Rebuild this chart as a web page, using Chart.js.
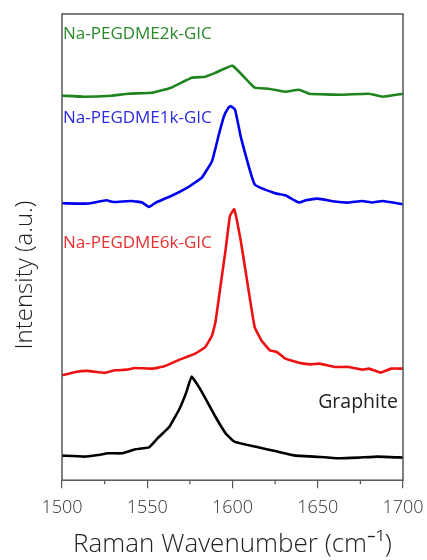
<!DOCTYPE html>
<html>
<head>
<meta charset="utf-8">
<script src="https://cdn.jsdelivr.net/npm/chart.js@4.4.0/dist/chart.umd.min.js"></script>
<style>
  body { margin: 0; background: #fff; }
  #wrap { width: 427px; height: 560px; }
</style>
</head>
<body>
<div id="wrap"><canvas id="raman"></canvas></div>
<script>
'use strict';

// Raman shift (cm-1) and offset intensity (a.u.)
const graphiteX = [1500, 1513, 1521, 1527, 1535, 1543, 1551, 1556, 1563, 1569, 1573, 1576, 1582, 1590, 1596, 1601, 1615, 1625, 1637, 1648, 1662, 1674, 1685, 1700];
const graphiteY = [24.7, 23.7, 25.3, 27, 27, 31, 33, 42, 53.7, 72, 88.7, 104, 88.7, 63.7, 47, 38.7, 33, 29.3, 24.7, 23.7, 22, 22.7, 23.7, 22.7];

const peg6kX = [1500, 1508, 1515, 1525, 1531, 1538, 1543, 1553, 1560, 1568, 1578, 1584, 1588, 1590, 1593, 1596, 1598.5, 1601, 1605, 1609, 1613, 1617, 1622, 1626, 1631, 1639, 1646, 1651, 1660, 1668, 1676, 1680, 1687, 1693, 1700];
const peg6kY = [105.3, 108.7, 109.7, 107.7, 110.3, 111, 112.7, 112, 114.3, 120.3, 127, 133.7, 145.3, 158.7, 195.3, 232, 265.3, 272, 238.7, 195.3, 153.7, 140.3, 130.3, 128.7, 122, 118, 116.3, 117, 113.7, 113.7, 111, 112, 108, 112, 112];

const peg1kX = [1500, 1515, 1526, 1530, 1541, 1547, 1551, 1555, 1564, 1574, 1582, 1588, 1592, 1595, 1597.5, 1599, 1601.5, 1605, 1613, 1625, 1631, 1639, 1643, 1650, 1660, 1668, 1676, 1682, 1688, 1700];
const peg1kY = [278, 277.7, 281, 279.3, 280.3, 278.7, 274.3, 278.7, 285.3, 294.3, 303.7, 320.3, 347, 365.3, 373.7, 375.5, 372, 343.7, 297, 288, 286, 278.7, 281, 282.7, 279.7, 278.7, 280.3, 278.7, 280.3, 277];

const peg2kX = [1500, 1513, 1529, 1539, 1553, 1564, 1576, 1584, 1590, 1600, 1613, 1621, 1631, 1639, 1645, 1664, 1680, 1688, 1700];
const peg2kY = [386, 385, 386, 388, 389, 394, 404, 405, 409, 416, 394, 393, 390, 392, 388, 387, 388, 385, 388];

const xTicks = [1500, 1550, 1600, 1650, 1700];

function pts(xs, ys) {
    return xs.map((x, i) => ({x: x, y: ys[i]}));
}

const FONT = '"Open Sans", "DejaVu Sans", sans-serif';

// frame, minor ticks, curve labels and the y title
const decor = {
    id: 'decor',
    afterDraw(chart) {
        const ctx = chart.ctx;
        const a = chart.chartArea;
        const xs = chart.scales.x;
        const ys = chart.scales.y;
        ctx.save();

        ctx.strokeStyle = '#555';
        ctx.lineWidth = 1.5;
        ctx.strokeRect(a.left, a.top, a.right - a.left, a.bottom - a.top);

        // minor ticks halfway between the labelled ones
        ctx.lineWidth = 1.2;
        for (let i = 0; i < xTicks.length - 1; i++) {
            let px = xs.getPixelForValue((xTicks[i] + xTicks[i + 1]) / 2);
            ctx.beginPath();
            ctx.moveTo(px, a.bottom);
            ctx.lineTo(px, a.bottom + 4);
            ctx.stroke();
        }

        ctx.font = '17px ' + FONT;
        ctx.textBaseline = 'middle';
        ctx.textAlign = 'left';
        const left = a.left + 1;
        ctx.fillStyle = '#2a8a2a';
        ctx.fillText('Na-PEGDME2k-GIC', left, ys.getPixelForValue(447.7));
        ctx.fillStyle = '#2b2be0';
        ctx.fillText('Na-PEGDME1k-GIC', left, ys.getPixelForValue(363));
        ctx.fillStyle = '#e83030';
        ctx.fillText('Na-PEGDME6k-GIC', left, ys.getPixelForValue(237.7));
        ctx.font = '19.5px ' + FONT;
        ctx.textAlign = 'right';
        ctx.fillStyle = '#222';
        ctx.fillText('Graphite', xs.getPixelForValue(1697), ys.getPixelForValue(78));

        // y axis title
        ctx.font = '300 24px ' + FONT;
        ctx.textAlign = 'center';
        ctx.fillStyle = '#222';
        ctx.translate(25, (a.top + a.bottom) / 2 + 28);
        ctx.rotate(-Math.PI / 2);
        ctx.fillText('Intensity (a.u.)', 0, 0);
        ctx.restore();
    }
};

function line(data, color) {
    return {
        data: data,
        borderColor: color,
        borderWidth: 2.6,
        pointRadius: 0,
        fill: false,
        tension: 0.1
    };
}

new Chart(document.getElementById('raman'), {
    type: 'line',
    data: {
        datasets: [
            line(pts(graphiteX, graphiteY), '#000000'),
            line(pts(peg6kX, peg6kY), '#ee1111'),
            line(pts(peg1kX, peg1kY), '#0000ee'),
            line(pts(peg2kX, peg2kY), '#1e841e')
        ]
    },
    options: {
        responsive: true,
        maintainAspectRatio: false,
        animation: false,
        layout: {padding: {left: 62, right: 24, top: 14, bottom: 0}},
        scales: {
            x: {
                type: 'linear',
                min: 1500,
                max: 1700,
                afterBuildTicks: function(scale) {
                    scale.ticks = xTicks.map(v => ({value: v}));
                },
                afterFit: function(scale) {
                    // let the layout padding alone decide the plot edges
                    scale.paddingLeft = 0;
                    scale.paddingRight = 0;
                },
                ticks: {
                    color: '#333',
                    font: {family: FONT, size: 18, weight: 300},
                    padding: 9,
                    maxRotation: 0,
                    callback: v => String(v)
                },
                grid: {
                    drawOnChartArea: false,
                    drawTicks: true,
                    tickLength: 8,
                    color: '#555',
                    lineWidth: 1.2
                },
                border: {display: false},
                title: {
                    display: true,
                    text: 'Raman Wavenumber (cm\u207B\u00B9)',
                    color: '#222',
                    font: {family: FONT, size: 26, weight: 300},
                    padding: {top: 1, bottom: 0}
                }
            },
            y: {
                display: false,
                min: 0,
                max: 468
            }
        },
        plugins: {
            legend: {display: false},
            tooltip: {enabled: false}
        }
    },
    plugins: [decor]
});
</script>
</body>
</html>
